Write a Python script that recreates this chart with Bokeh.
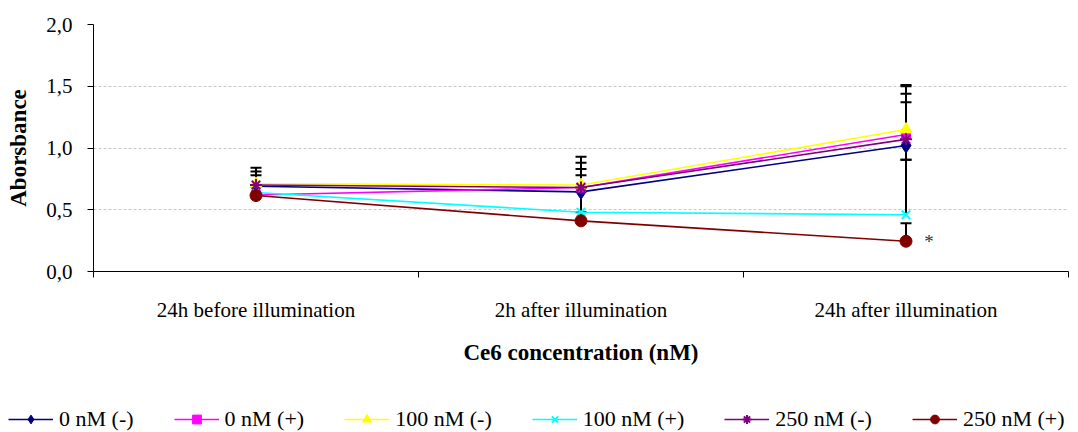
from bokeh.plotting import figure
from bokeh.models import (ColumnDataSource, Range1d, FixedTicker, Whisker, TeeHead,
                          Legend, LegendItem, Label)
from bokeh.layouts import column, row
from bokeh.embed import file_html
from bokeh.resources import INLINE

# ---------------- data ----------------
categories = ["24h before illumination", "2h after illumination", "24h after illumination"]
y_ticks = [0.0, 0.5, 1.0, 1.5, 2.0]
y_tick_labels = ["0,0", "0,5", "1,0", "1,5", "2,0"]

series_names = ["0 nM (-)", "0 nM (+)", "100 nM (-)", "100 nM (+)", "250 nM (-)", "250 nM (+)"]
nm0_minus = [0.69, 0.645, 1.02]
nm0_plus = [0.62, 0.68, 1.11]
nm100_minus = [0.71, 0.70, 1.15]
nm100_plus = [0.64, 0.48, 0.46]
nm250_minus = [0.70, 0.68, 1.07]
nm250_plus = [0.615, 0.41, 0.245]

err_nm0_minus = [0.15, 0.285, 0.35]
err_nm0_plus = [0.07, 0.20, 0.39]
err_nm100_minus = [0.10, 0.13, 0.36]
err_nm100_plus = [0.05, 0.165, 0.445]
err_nm250_minus = [0.08, 0.10, 0.37]
err_nm250_plus = [0.07, 0.07, 0.145]

low_err_nm0_minus = [0.0, 0.0, 0.115]
low_err_others = [0.0, 0.0, 0.0]

significance_mark = "*"

values = [nm0_minus, nm0_plus, nm100_minus, nm100_plus, nm250_minus, nm250_plus]
errs = [err_nm0_minus, err_nm0_plus, err_nm100_minus, err_nm100_plus, err_nm250_minus, err_nm250_plus]
low_errs = [low_err_nm0_minus] + [low_err_others] * 5

# ---------------- styles ----------------
colors = ["#000080", "#FF00FF", "#FFFF00", "#00FFFF", "#800080", "#800000"]
markers = ["diamond", "square", "triangle", "x", "asterisk", "circle"]
sizes = [15, 9, 12, 12, 12, 12]
legend_sizes = [13, 9, 11, 10, 10, 10]
FONT = "Liberation Serif"

x_pos = [i + 0.5 for i in range(len(categories))]

p = figure(width=1078, height=395, output_backend="svg", toolbar_location=None,
           x_range=Range1d(0, len(categories)), y_range=Range1d(y_ticks[0], y_ticks[-1]),
           min_border_left=93, min_border_right=10, min_border_top=24, min_border_bottom=124)
p.outline_line_color = None
p.background_fill_color = "white"

# axes
p.xaxis.ticker = FixedTicker(ticks=x_pos, minor_ticks=list(range(len(categories) + 1)))
p.xaxis.major_label_overrides = {x: c for x, c in zip(x_pos, categories)}
p.xaxis.major_tick_out = 0
p.xaxis.major_tick_in = 0
p.xaxis.minor_tick_out = 6
p.xaxis.minor_tick_in = 0
p.xaxis.minor_tick_line_color = "black"
p.xaxis.major_label_standoff = 20
p.xaxis.axis_label = "Ce6 concentration (nM)"
p.xaxis.axis_label_standoff = 15

p.yaxis.ticker = FixedTicker(ticks=y_ticks)
p.yaxis.major_label_overrides = {t: l for t, l in zip(y_ticks, y_tick_labels)}
p.yaxis.major_tick_out = 6
p.yaxis.major_tick_in = 0
p.yaxis.minor_tick_out = 0
p.yaxis.minor_tick_in = 0
p.yaxis.major_label_standoff = 15
p.yaxis.axis_label = "Aborsbance"
p.yaxis.axis_label_standoff = 12

for ax in (p.xaxis[0], p.yaxis[0]):
    ax.axis_line_color = "black"
    ax.axis_line_width = 1
    ax.major_tick_line_color = "black"
    ax.major_label_text_font = FONT
    ax.major_label_text_font_size = "21px"
    ax.major_label_text_color = "black"
    ax.axis_label_text_font = FONT
    ax.axis_label_text_font_size = "23px"
    ax.axis_label_text_font_style = "bold"
    ax.axis_label_text_color = "black"

p.xgrid.visible = False
p.ygrid.ticker = FixedTicker(ticks=y_ticks)
p.ygrid.grid_line_color = "#c8c8c8"
p.ygrid.grid_line_dash = "3 2"
p.ygrid.grid_line_width = 1

# error bars (under the lines)
for vals, e, le in zip(values, errs, low_errs):
    src = ColumnDataSource(dict(x=x_pos, y=vals, yu=[v + d for v, d in zip(vals, e)]))
    w = Whisker(source=src, base="x", lower="y", upper="yu",
                upper_head=TeeHead(size=11, line_color="black", line_width=2),
                lower_head=None, line_color="black", line_width=2, level="underlay")
    p.add_layout(w)
    xs = [x for x, d in zip(x_pos, le) if d > 0]
    if xs:
        lsrc = ColumnDataSource(dict(x=xs,
                                     y=[v for v, d in zip(vals, le) if d > 0],
                                     yl=[v - d for v, d in zip(vals, le) if d > 0]))
        lw = Whisker(source=lsrc, base="x", lower="yl", upper="y",
                     lower_head=TeeHead(size=11, line_color="black", line_width=2),
                     upper_head=None, line_color="black", line_width=2, level="underlay")
        p.add_layout(lw)

for name, vals, col, mk, sz in zip(series_names, values, colors, markers, sizes):
    src = ColumnDataSource(dict(x=x_pos, y=vals))
    p.line("x", "y", source=src, line_color=col, line_width=1.6)
    p.scatter("x", "y", source=src, marker=mk, size=sz, fill_color=col,
              line_color=col, line_width=2 if mk in ("x", "asterisk") else 1)

# significance mark next to last point of 250 nM (+)
p.add_layout(Label(x=x_pos[-1], y=nm250_plus[-1], x_offset=23, text=significance_mark,
                   text_font=FONT, text_font_size="19px", text_align="center",
                   text_baseline="middle", text_color="#333333"))

# ---------------- legend strip ----------------
lg = figure(width=1078, height=37, output_backend="svg", toolbar_location=None,
            x_axis_type=None, y_axis_type=None, x_range=Range1d(0, 1), y_range=Range1d(0, 1),
            min_border=0, min_border_left=0, min_border_right=0, min_border_top=0,
            min_border_bottom=0)
lg.outline_line_color = None
lg.xgrid.visible = False
lg.ygrid.visible = False

nan = float("nan")
items = []
for name, col, mk, sz in zip(series_names, colors, markers, legend_sizes):
    src = ColumnDataSource(dict(x=[nan], y=[nan]))
    lr = lg.line("x", "y", source=src, line_color=col, line_width=1.6)
    sr = lg.scatter("x", "y", source=src, marker=mk, size=sz, fill_color=col,
                    line_color=col, line_width=2 if mk in ("x", "asterisk") else 1)
    items.append(LegendItem(label=name, renderers=[lr, sr]))

legend = Legend(items=items, orientation="horizontal", location=(8, 0),
                glyph_width=45, glyph_height=22, label_standoff=6, spacing=40,
                padding=2, margin=0, border_line_color=None, background_fill_alpha=0,
                label_text_font=FONT, label_text_font_size="22px", label_text_color="black")
lg.add_layout(legend, "center")

layout = column(row(p, spacing=0), row(lg, spacing=0), spacing=0)
open("out.html", "w").write(file_html(layout, INLINE))
